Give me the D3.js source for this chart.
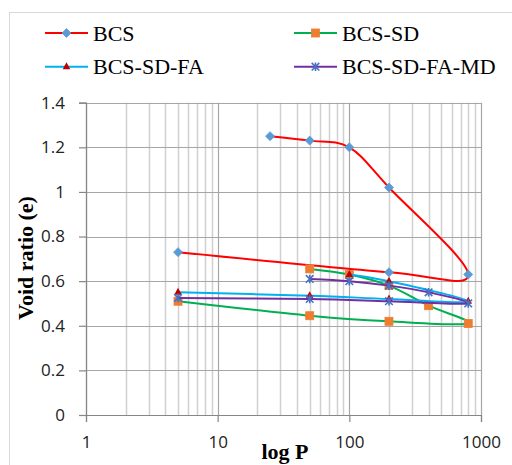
<!DOCTYPE html>
<html>
<head>
<meta charset="utf-8">
<script src="https://cdn.jsdelivr.net/npm/d3@7"></script>
<style>
  html, body { margin: 0; padding: 0; background: #fff; }
  svg { display: block; }
</style>
</head>
<body>
<svg id="chart" width="512" height="465"></svg>
<script>
// Consolidation test: void ratio vs applied pressure (loading then unloading)
const seriesNames = ["BCS", "BCS-SD", "BCS-SD-FA", "BCS-SD-FA-MD"];

const bcsP = [25, 50, 100, 200, 800, 200, 5];
const bcsE = [1.25, 1.23, 1.20, 1.02, 0.63, 0.64, 0.73];

const bcsSdP = [50, 100, 200, 400, 800, 200, 50, 5];
const bcsSdE = [0.655, 0.63, 0.58, 0.49, 0.41, 0.42, 0.445, 0.51];

const bcsSdFaP = [100, 200, 800, 200, 50, 5];
const bcsSdFaE = [0.63, 0.60, 0.51, 0.52, 0.535, 0.55];

const bcsSdFaMdP = [50, 100, 200, 400, 800, 200, 50, 5];
const bcsSdFaMdE = [0.61, 0.60, 0.58, 0.55, 0.50, 0.51, 0.52, 0.525];

const xTickValues = [1, 10, 100, 1000];
const yTickValues = [0, 0.2, 0.4, 0.6, 0.8, 1.0, 1.2, 1.4];

const svg = d3.select("#chart");

const x = d3.scaleLog().domain([1, 1000]).range([86, 481]);
const y = d3.scaleLinear().domain([0, 1.4]).range([415, 102.7]);

// outer chart frame
svg.append("rect")
  .attr("x", 9.5).attr("y", 12.5)
  .attr("width", 700).attr("height", 700)
  .attr("fill", "#fff").attr("stroke", "#d9d9d9").attr("stroke-width", 1);

// minor vertical gridlines (2..9 in each decade)
const minorX = [];
for (let d = 1; d <= 100; d *= 10) for (let k = 2; k <= 9; k++) minorX.push(d * k);
svg.append("g").selectAll("line").data(minorX).join("line")
  .attr("x1", d => Math.round(x(d)) + 0.5).attr("x2", d => Math.round(x(d)) + 0.5)
  .attr("y1", y(1.4)).attr("y2", y(0))
  .attr("stroke", "#d0d0d0").attr("stroke-width", 1.5);

// major gridlines
svg.append("g").selectAll("line").data(yTickValues).join("line")
  .attr("x1", x(1)).attr("x2", x(1000))
  .attr("y1", d => Math.round(y(d)) + 0.5).attr("y2", d => Math.round(y(d)) + 0.5)
  .attr("stroke", "#a6a6a6").attr("stroke-width", 1.2);
svg.append("g").selectAll("line").data(xTickValues).join("line")
  .attr("x1", d => Math.round(x(d)) + 0.5).attr("x2", d => Math.round(x(d)) + 0.5)
  .attr("y1", y(1.4)).attr("y2", y(0))
  .attr("stroke", "#a6a6a6").attr("stroke-width", 1.2);

// axes
const yAxis = d3.axisLeft(y).tickValues(yTickValues)
  .tickFormat(d => d3.format("~g")(d)).tickSizeOuter(0).tickSize(7).tickPadding(14);
const xAxis = d3.axisBottom(x).tickValues(xTickValues)
  .tickFormat(d3.format("d")).tickSizeOuter(0).tickSize(7).tickPadding(14);

const gy = svg.append("g").attr("transform", `translate(${x(1)},0)`).call(yAxis);
const gx = svg.append("g").attr("transform", `translate(0,${y(0)})`).call(xAxis);
[gx, gy].forEach(g => {
  g.select(".domain").attr("stroke", "#868686").attr("stroke-width", 1.2);
  g.selectAll(".tick line").attr("stroke", "#868686").attr("stroke-width", 1.2);
  g.selectAll(".tick text").attr("fill", "#222")
    .style("font-family", "'Open Sans', sans-serif").style("font-size", "17px");
});

// axis titles
svg.append("text")
  .attr("x", 285).attr("y", 459)
  .attr("text-anchor", "middle")
  .style("font-family", "'Liberation Serif', 'Times New Roman', serif")
  .style("font-weight", "bold").style("font-size", "22px")
  .text("log P");
svg.append("text")
  .attr("transform", "translate(33,258) rotate(-90)")
  .attr("text-anchor", "middle")
  .style("font-family", "'Liberation Serif', 'Times New Roman', serif")
  .style("font-weight", "bold").style("font-size", "22px")
  .text("Void ratio (e)");

// series definitions
const series = [
  { name: seriesNames[0], p: bcsP, e: bcsE, line: "#ff0000", marker: "diamond", fill: "#5b9bd5" },
  { name: seriesNames[1], p: bcsSdP, e: bcsSdE, line: "#00b050", marker: "square", fill: "#ed7d31" },
  { name: seriesNames[2], p: bcsSdFaP, e: bcsSdFaE, line: "#00b0f0", marker: "triangle", fill: "#c00000" },
  { name: seriesNames[3], p: bcsSdFaMdP, e: bcsSdFaMdE, line: "#7030a0", marker: "star", fill: "#4472c4" }
];

const line = d3.line()
  .x(d => x(d[0])).y(d => y(d[1]))
  .curve(d3.curveCardinal.tension(0));

function drawMarker(g, type, color, cx, cy) {
  if (type === "diamond") {
    g.append("path").attr("d", `M${cx},${cy - 4.5}L${cx + 4.5},${cy}L${cx},${cy + 4.5}L${cx - 4.5},${cy}Z`)
      .attr("fill", color).attr("stroke", color).attr("stroke-width", 0.8);
  } else if (type === "square") {
    g.append("rect").attr("x", cx - 4).attr("y", cy - 4).attr("width", 8).attr("height", 8)
      .attr("fill", color).attr("stroke", color).attr("stroke-width", 0.8);
  } else if (type === "triangle") {
    g.append("path").attr("d", `M${cx},${cy - 4.5}L${cx + 3.8},${cy + 2.5}L${cx - 3.8},${cy + 2.5}Z`)
      .attr("fill", color);
  } else if (type === "star") {
    const r = 3.8;
    g.append("path")
      .attr("d", `M${cx - r},${cy - r}L${cx + r},${cy + r}M${cx - r},${cy + r}L${cx + r},${cy - r}M${cx},${cy - r - 0.5}L${cx},${cy + r + 0.5}`)
      .attr("stroke", color).attr("stroke-width", 1.6).attr("fill", "none");
  }
}

series.forEach(s => {
  const pts = s.p.map((p, i) => [p, s.e[i]]);
  const g = svg.append("g");
  g.append("path").attr("d", line(pts))
    .attr("fill", "none").attr("stroke", s.line).attr("stroke-width", 2);
  pts.forEach(d => drawMarker(g, s.marker, s.fill, x(d[0]), y(d[1])));
});

// legend
const legendPos = [[45, 33], [294, 33], [45, 66.7], [294, 66.7]];
series.forEach((s, i) => {
  const [lx, ly] = legendPos[i];
  const g = svg.append("g");
  g.append("line").attr("x1", lx).attr("x2", lx + 43).attr("y1", ly).attr("y2", ly)
    .attr("stroke", s.line).attr("stroke-width", 2);
  drawMarker(g, s.marker, s.fill, lx + 21.5, ly);
  g.append("text").attr("x", lx + 48).attr("y", ly + 7.5)
    .style("font-family", "'Liberation Serif', 'Times New Roman', serif")
    .style("font-size", "22px").attr("fill", "#000")
    .text(s.name);
});
</script>
</body>
</html>
